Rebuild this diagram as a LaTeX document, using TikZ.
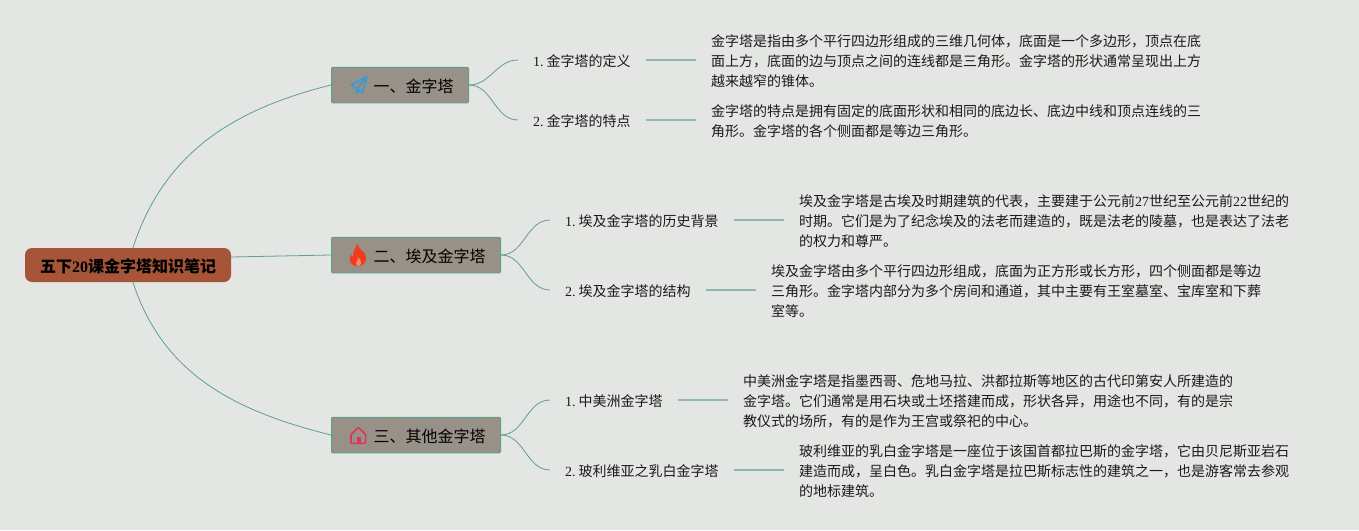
\documentclass[tikz,border=0pt]{standalone}
\usepackage{fontspec}
\setmainfont{Noto Sans CJK SC}
\newfontfamily\latinrm{Liberation Serif}
\newcommand{\lat}[1]{{\latinrm #1}}
\usetikzlibrary{positioning}
\definecolor{paper}{HTML}{E3E6E2}
\definecolor{rootfill}{HTML}{A65539}
\definecolor{branchfill}{HTML}{979187}
\definecolor{edgeline}{HTML}{5F9F8E}
\definecolor{leadline}{HTML}{8DB8AA}
\definecolor{inkline}{HTML}{1A1A1A}
\definecolor{planeblue}{HTML}{3A9AD2}
\definecolor{flamered}{HTML}{F5391C}
\definecolor{flamecore}{HTML}{EE8A70}
\definecolor{houserose}{HTML}{DC3560}
\tikzset{
  rootbox/.style={fill=rootfill, rounded corners=7pt, minimum width=206pt, minimum height=34pt, inner sep=0pt, text height=14pt, text depth=0pt, font=\fontsize{16}{20}\selectfont\bfseries, text=black},
  branchbox/.style={draw=edgeline, fill=branchfill, line width=1pt, rounded corners=1pt, minimum height=35.5pt, inner xsep=15pt, inner ysep=0pt, anchor=west, text height=14pt, text depth=0pt, font=\fontsize{16}{20}\selectfont, text=black},
  topicbox/.style={inner xsep=15pt, inner ysep=2pt, anchor=west, text height=13pt, text depth=0pt, font=\fontsize{14}{20}\selectfont, text=inkline},
  notebox/.style={inner xsep=15pt, inner ysep=0pt, align=left, yshift=-1pt, font=\fontsize{14}{20}\selectfont, text=inkline},
  curveline/.style={draw=edgeline, line width=0.8pt},
  leadin/.style={draw=leadline, line width=1.2pt}
}
\begin{document}
\begin{tikzpicture}[x=1pt, y=-1pt]
\useasboundingbox[fill=paper] (0,0) rectangle (1359,530);
\node (root)[rootbox] at (128,265) {五下\lat{20}课金字塔知识笔记};
\node (b1)[branchbox] at (331,85) {\hspace*{27pt}一、金字塔};
\node (b2)[branchbox] at (331,255) {\hspace*{27pt}二、埃及金字塔};
\node (b3)[branchbox] at (331,435) {\hspace*{27pt}三、其他金字塔};
\node (t1)[topicbox] at (518,60) {\lat{1.}\hspace{2.9pt}金字塔的定义};
\node (t2)[topicbox] at (518,120) {\lat{2.}\hspace{2.9pt}金字塔的特点};
\node (t3)[topicbox] at (550,220) {\lat{1.}\hspace{2.9pt}埃及金字塔的历史背景};
\node (t4)[topicbox] at (550,290) {\lat{2.}\hspace{2.9pt}埃及金字塔的结构};
\node (t5)[topicbox] at (550,400) {\lat{1.}\hspace{2.9pt}中美洲金字塔};
\node (t6)[topicbox] at (550,470) {\lat{2.}\hspace{2.9pt}玻利维亚之乳白金字塔};
\node (n1)[notebox] [right=50pt of t1] {金字塔是指由多个平行四边形组成的三维几何体，底面是一个多边形，顶点在底\\面上方，底面的边与顶点之间的连线都是三角形。金字塔的形状通常呈现出上方\\越来越窄的锥体。};
\node (n2)[notebox] [right=50pt of t2] {金字塔的特点是拥有固定的底面形状和相同的底边长、底边中线和顶点连线的三\\角形。金字塔的各个侧面都是等边三角形。};
\node (n3)[notebox] [right=50pt of t3] {埃及金字塔是古埃及时期建筑的代表，主要建于公元前\lat{27}世纪至公元前\lat{22}世纪的\\时期。它们是为了纪念埃及的法老而建造的，既是法老的陵墓，也是表达了法老\\的权力和尊严。};
\node (n4)[notebox] [right=50pt of t4] {埃及金字塔由多个平行四边形组成，底面为正方形或长方形，四个侧面都是等边\\三角形。金字塔内部分为多个房间和通道，其中主要有王室墓室、宝库室和下葬\\室等。};
\node (n5)[notebox] [right=50pt of t5] {中美洲金字塔是指墨西哥、危地马拉、洪都拉斯等地区的古代印第安人所建造的\\金字塔。它们通常是用石块或土坯搭建而成，形状各异，用途也不同，有的是宗\\教仪式的场所，有的是作为王宫或祭祀的中心。};
\node (n6)[notebox] [right=50pt of t6] {玻利维亚的乳白金字塔是一座位于该国首都拉巴斯的金字塔，它由贝尼斯亚岩石\\建造而成，呈白色。乳白金字塔是拉巴斯标志性的建筑之一，也是游客常去参观\\的地标建筑。};
\draw[curveline] (root.74) to[out=72, in=194] (b1.west);
\draw[curveline] (root.east) ++(0,-8) coordinate (rootout) (rootout) -- (b2.west);
\draw[curveline] (root.-74) to[out=-72, in=166] (b3.west);
\draw[curveline] (b1.east) to[out=0, in=180] (t1.west);
\draw[curveline] (b1.east) to[out=0, in=180] (t2.west);
\draw[curveline] (b2.east) to[out=0, in=180] (t3.west);
\draw[curveline] (b2.east) to[out=0, in=180] (t4.west);
\draw[curveline] (b3.east) to[out=0, in=180] (t5.west);
\draw[curveline] (b3.east) to[out=0, in=180] (t6.west);
\draw[leadin] (t1.east) -- (n1.west |- t1.east);
\draw[leadin] (t2.east) -- (n2.west |- t2.east);
\draw[leadin] (t3.east) -- (n3.west |- t3.east);
\draw[leadin] (t4.east) -- (n4.west |- t4.east);
\draw[leadin] (t5.east) -- (n5.west |- t5.east);
\draw[leadin] (t6.east) -- (n6.west |- t6.east);
\draw[planeblue, line width=1.6pt, line join=round] (351,85) -- (367,76.5) -- (362.5,92.5) -- (357,88.5) -- cycle (357,88.5) -- (367,76.5) (357,88.5) -- (356.5,93) -- (359.5,90.5);
\path[fill=flamered] (357.5,244) .. controls (358,248) and (362,250) .. (365,254) .. controls (368,259) and (365,265) .. (360,266) -- (355.5,266) .. controls (350,265) and (348.5,259) .. (351,254.5) .. controls (351.5,256) and (352.5,256.5) .. (353,256.5) .. controls (352.5,252) and (355.5,248) .. (357.5,244) -- cycle;
\path[fill=flamecore] (358.5,257.5) .. controls (358.5,259.5) and (356,261) .. (356,263.5) .. controls (356,265) and (357,266) .. (358.5,266) .. controls (360,266) and (361,265) .. (361,263) .. controls (361,261) and (360,259) .. (358.5,257.5) -- cycle;
\draw[houserose, line width=1.6pt, line join=round, rounded corners=0.8pt] (351,443.3) -- (351,434.5) -- (358.3,427.5) -- (365.6,434.5) -- (365.6,443.3) -- cycle;
\path[fill=houserose] (356.5,437) rectangle (360.5,443.3);
\end{tikzpicture}
\end{document}
